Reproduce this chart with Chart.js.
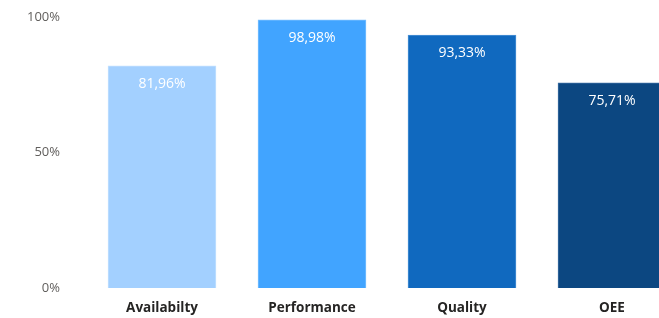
<!DOCTYPE html>
<html>
<head>
<meta charset="utf-8">
<script src="https://cdn.jsdelivr.net/npm/chart.js@4"></script>
<style>
  html, body { margin: 0; padding: 0; background: #fff; overflow: hidden; }
  .wrap { position: relative; width: 690px; height: 318px; }
</style>
</head>
<body>
<div class="wrap"><canvas id="oeeChart"></canvas></div>
<script>
// ============================================
//  DATA
// ============================================
const categories = ['Availabilty', 'Performance', 'Quality', 'OEE'];
const values = [81.96, 98.98, 93.33, 75.71];
const barColors = ['#A3D0FF', '#41A4FF', '#1069BF', '#0C4781'];
const borderColors = ['#C4E1FF', '#7CC0FF', '#4C93D6', '#3C6FA3'];
const yTicks = [0, 50, 100];

const fmtPct = (v) => v.toFixed(2).replace('.', ',') + '%';

// draws the value label inside each bar, near its top
const valueLabels = {
  id: 'valueLabels',
  afterDatasetsDraw(chart) {
    const c = chart.ctx;
    const meta = chart.getDatasetMeta(0);
    c.save();
    c.fillStyle = '#ffffff';
    c.font = '14px "Open Sans", "Noto Sans", sans-serif';
    c.textAlign = 'center';
    c.textBaseline = 'middle';
    meta.data.forEach((bar, i) => {
      c.fillText(fmtPct(values[i]), bar.x, bar.y + 18);
    });
    c.restore();
  }
};

const ctx = document.getElementById('oeeChart').getContext('2d');

new Chart(ctx, {
  type: 'bar',
  data: {
    labels: categories,
    datasets: [{
      data: values,
      backgroundColor: barColors,
      borderColor: borderColors,
      borderWidth: 1,
      barThickness: 108
    }]
  },
  options: {
    responsive: true,
    maintainAspectRatio: false,
    animation: false,
    layout: { padding: { top: 0, left: 0, right: 3, bottom: 0 } },
    plugins: {
      legend: { display: false },
      tooltip: { enabled: false }
    },
    scales: {
      x: {
        grid: { display: false, drawTicks: false },
        border: { display: false },
        ticks: {
          color: '#252423',
          padding: 12,
          font: { family: '"Open Sans", "Noto Sans", sans-serif', size: 13.5, weight: 'bold' }
        },
        afterFit: (scale) => { scale.height = 30; }
      },
      y: {
        min: 0,
        max: 100,
        grid: { display: false, drawTicks: false },
        border: { display: false },
        afterBuildTicks: (scale) => { scale.ticks = yTicks.map(v => ({ value: v })); },
        ticks: {
          color: '#605E5C',
          padding: 27,
          font: { family: '"Open Sans", "Noto Sans", sans-serif', size: 13 },
          callback: (val) => val + '%'
        },
        // tick padding also pads the axis ends in v4, undo that
        afterFit: (scale) => {
          scale.width = 87;
          scale.paddingTop = 17;
          scale.paddingBottom = 0;
        }
      }
    }
  },
  plugins: [valueLabels]
});
</script>
</body>
</html>
